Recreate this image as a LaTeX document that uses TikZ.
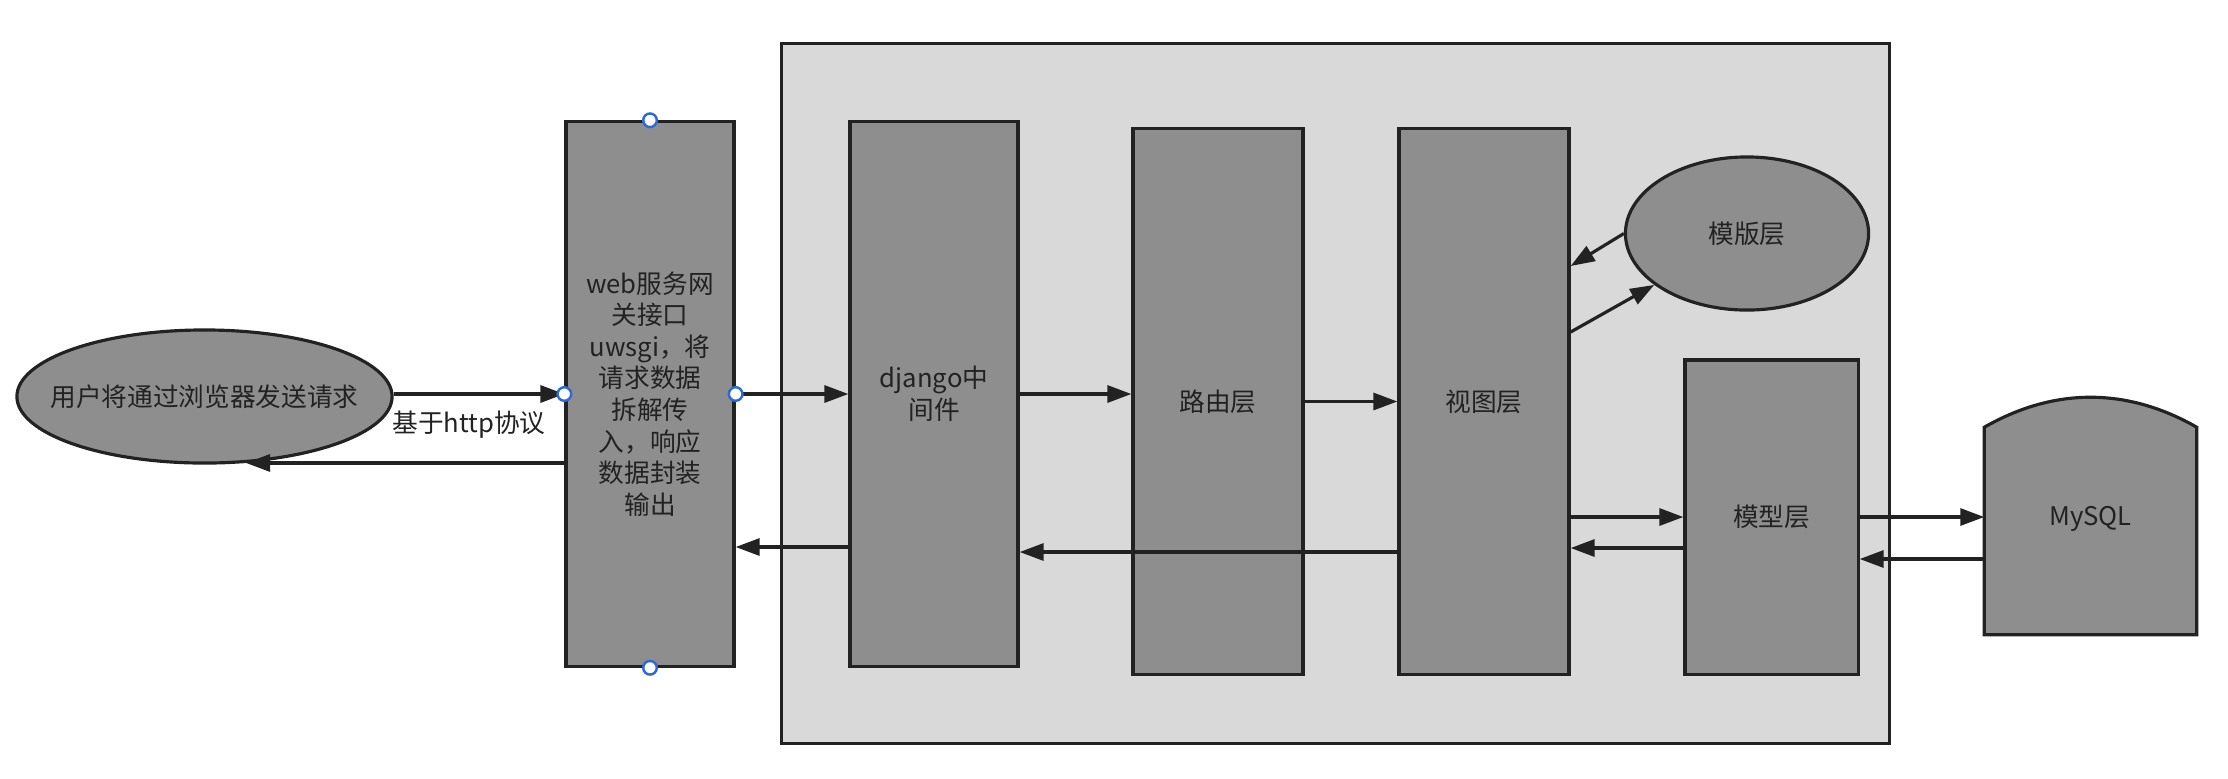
\documentclass[tikz,border=0pt]{standalone}
\usepackage{fontspec}
\setmainfont{Noto Sans CJK SC}
\usetikzlibrary{shapes.geometric,arrows.meta,calc}
\definecolor{boxgray}{RGB}{142,142,142}
\definecolor{bggray}{RGB}{217,217,217}
\definecolor{edge}{RGB}{34,34,34}
\definecolor{handle}{RGB}{45,105,215}
\begin{document}
\begin{tikzpicture}[x=0.01cm,y=-0.01cm,
  every node/.style={font=\fontsize{7.3}{9}\selectfont, text=edge},
  box/.style={draw=edge, line width=0.9pt, fill=boxgray, inner sep=0pt, align=center},
  ell/.style={ellipse, draw=edge, line width=0.9pt, fill=boxgray, inner sep=0pt},
  arr/.style={draw=edge, line width=0.9pt, -{Triangle[length=0.24cm,width=0.17cm]}},
  hdl/.style={draw=handle, fill=white, line width=0.7pt}]
\fill[white] (0,0) rectangle (2228,778);
\useasboundingbox (0,0) rectangle (2228,778);
% outer nodes
\node[ell, minimum width=3.75cm, minimum height=1.33cm] (user) at (204.5,396.5) {\makebox[0pt]{用户将通过浏览器发送请求}};
\node[box, minimum width=1.68cm, minimum height=5.44cm] (web) at (650,394)
  {web服务网\\关接口\\uwsgi，将\\请求数据\\拆解传\\入，响应\\数据封装\\输出};
% container
\node[draw=edge, line width=0.9pt, fill=bggray, minimum width=11.07cm, minimum height=6.99cm, inner sep=0pt] (frame) at (1335.5,393.5) {};
\node[box, minimum width=1.68cm, minimum height=5.44cm] (mw) at (934,394) {django中\\间件};
\node[box, minimum width=1.70cm, minimum height=5.45cm] (route) at (1218,401.5) {路由层};
\node[box, minimum width=1.70cm, minimum height=5.45cm] (view) at (1484,401.5) {视图层};
\node[ell, minimum width=2.43cm, minimum height=1.53cm] (tmpl) at (1747,233.5) {\makebox[0pt]{模版层}};
\node[box, minimum width=1.73cm, minimum height=3.14cm] (model) at (1771.5,517) {模型层};
% MySQL
\node[inner sep=0pt, minimum width=2.11cm, minimum height=2.36cm] (mysql) at (2090.5,516) {};
\draw[draw=edge, line width=0.9pt, fill=boxgray] (mysql.south west) -- ($(mysql.north west)+(0,30)$)
  .. controls ($(mysql.north west)+(70,-10)$) and ($(mysql.north east)+(-70,-10)$) .. ($(mysql.north east)+(0,30)$)
  -- (mysql.south east) -- cycle;
\node (mysqllbl) at ($(mysql.center)+(0,3)$) {MySQL};
% label
\node (lbl) at (469,425) {基于http协议};
% helper coordinates
\coordinate (r2) at ($(mw.west)+(0,153)$);
\coordinate (r3) at ($(view.west)+(0,150.5)$);
\coordinate (r4) at ($(model.west)+(0,31)$);
\coordinate (r5) at ($(mysql.west)+(0,43)$);
% arrows
\draw[arr] (user.east |- web.west) -- (web.west);
\draw[arr] (web.west |- user.-58) -- (user.-58);
\draw[arr] (web.east) -- (mw.west);
\draw[arr] (r2) -- (r2 -| web.east);
\draw[arr] (mw.east) -- (mw.east -| route.west);
\draw[arr] (route.east) -- (view.west);
\draw[arr] (r3) -- (r3 -| mw.east);
\draw[arr] (tmpl.west) -- ($(view.east)+(0,-135.5)$);
\draw[arr] ($(view.east)+(0,-69.5)$) -- (tmpl.209);
\draw[arr] (model.west -| view.east) -- (model.west);
\draw[arr] (r4) -- (r4 -| view.east);
\draw[arr] (model.east) -- (model.east -| mysql.west);
\draw[arr] (r5) -- (r5 -| model.east);
% selection handles
\foreach \a in {north,south,west,east} \draw[hdl] (web.\a) circle (0.068cm);
\end{tikzpicture}
\end{document}
